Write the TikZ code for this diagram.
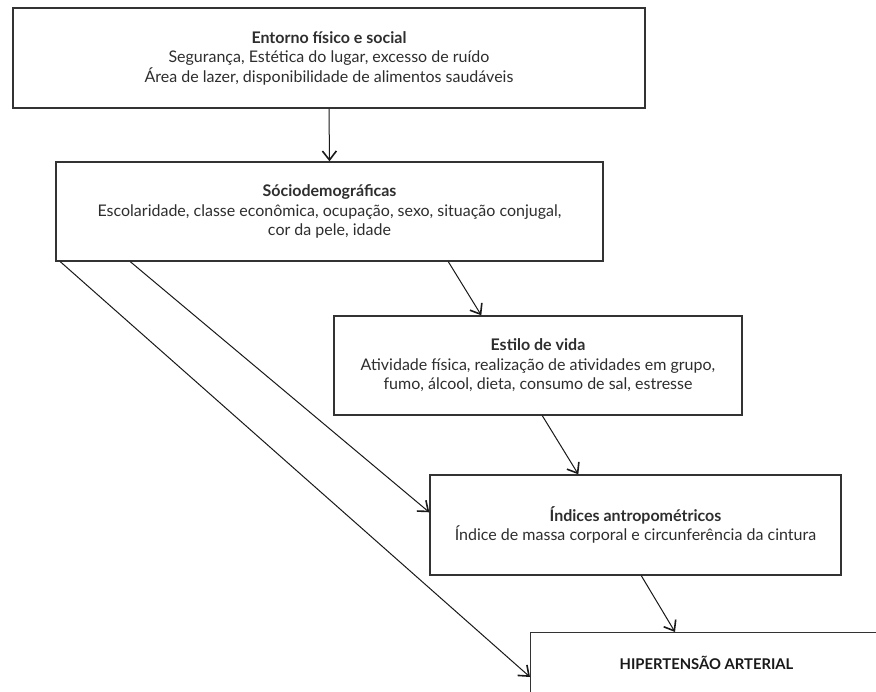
\documentclass[tikz,border=0pt]{standalone}
\usepackage{fontspec}
\setmainfont{Lato}
\usetikzlibrary{arrows.meta}
\definecolor{boxline}{HTML}{333333}
\definecolor{bodytext}{HTML}{2E2E2E}
\begin{document}
\begin{tikzpicture}[x=1pt,y=-1pt,
  box/.style={draw=boxline, line width=1.4pt, inner sep=0pt, align=center,
    font=\fontsize{16}{19.5}\selectfont, text=bodytext},
  arr/.style={draw=black!90, line width=1pt,
    -{Straight Barb[length=9pt,width=14pt,line width=1.6pt]}},
  ttl/.style={font=\fontsize{14.8}{19}\selectfont\bfseries, text=black!90}]
\useasboundingbox (0,0) rectangle (876,692);
\clip (0,0) rectangle (876,692);
\fill[white] (0,0) rectangle (876,692);

\node[box, minimum width=632pt, minimum height=100pt] (b1) at (329,58)
  {{\bfseries Entorno físico e social}\\
   Segurança, Estética do lugar, excesso de ruído\\
   Área de lazer, disponibilidade de alimentos saudáveis};

\node[box, minimum width=547pt, minimum height=99pt] (b2) at (329.5,211.5)
  {{\bfseries Sóciodemográficas}\\
   Escolaridade, classe econômica, ocupação, sexo, situação conjugal,\\
   cor da pele, idade};

\node[box, minimum width=408pt, minimum height=99pt] (b3) at (538,365.5)
  {{\bfseries Estilo de vida}\\
   Atividade física, realização de atividades em grupo,\\
   fumo, álcool, dieta, consumo de sal, estresse};

\node[box, minimum width=411pt, minimum height=100pt] (b4) at (635.5,525)
  {{\bfseries Índices antropométricos}\\
   Índice de massa corporal e circunferência da cintura};

\node[box, minimum width=353pt, minimum height=100pt, anchor=north west] (b5) at (530,632) {};
\node[ttl] (t5) at (706.5,663) {HIPERTENSÃO ARTERIAL};

\draw[arr] (b1.south) -- (b2.north);
\draw[arr] ([xshift=393pt]b2.south west) -- ([xshift=148pt]b3.north west);
\draw[arr] ([xshift=75pt]b2.south west) -- ([yshift=-38pt]b4.north west);
\draw[arr] ([xshift=5pt]b2.south west) -- ([yshift=-45pt]b5.north west);
\draw[arr] ([xshift=209pt]b3.south west) -- ([xshift=149pt]b4.north west);
\draw[arr] ([xshift=212pt]b4.south west) -- ([xshift=145pt]b5.north west);
\end{tikzpicture}
\end{document}
